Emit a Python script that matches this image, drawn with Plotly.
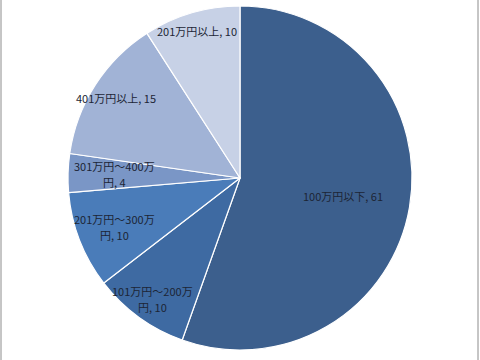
import math
import plotly.graph_objects as go

labels = ["100万円以下", "101万円～200万円", "201万円～300万円", "301万円～400万円", "401万円以上", "201万円以上"]
display = ["100万円以下, 61", "101万円～200万<br>円, 10", "201万円～300万<br>円, 10", "301万円～400万<br>円, 4", "401万円以上, 15", "201万円以上, 10"]
values = [61, 10, 10, 4, 15, 10]
colors = ["#3C5F8D", "#3E6AA2", "#4A7CB9", "#7A96C6", "#A1B3D6", "#C7D1E6"]

# label placement style: fraction of radius at which each label sits
label_radius = [0.61, 0.87, 0.78, 0.73, 0.86, 0.89]
LINE_GAP = 16  # px between wrapped label lines

W, H = 480, 360
cx, cy, R = 240, 178, 172  # pie centre / radius in pixels

fig = go.Figure(go.Pie(
    labels=labels,
    values=values,
    textinfo="none",
    sort=False,
    direction="clockwise",
    rotation=0,
    marker=dict(colors=colors, line=dict(color="#FFFFFF", width=1.2)),
    domain=dict(x=[(cx - R) / W, (cx + R) / W], y=[1 - (cy + R) / H, 1 - (cy - R) / H]),
    showlegend=False,
    hoverinfo="label+value",
))

total = sum(values)
annotations = []
cum = 0
for txt, v, f in zip(display, values, label_radius):
    mid = (cum + v / 2) / total * 2 * math.pi
    cum += v
    px = cx + f * R * math.sin(mid)
    py = cy - f * R * math.cos(mid)
    lines = txt.split("<br>")
    n = len(lines)
    for i, line in enumerate(lines):
        ly = py + (i - (n - 1) / 2) * LINE_GAP
        annotations.append(dict(
            x=px / W, y=1 - ly / H, xref="paper", yref="paper",
            text=line, showarrow=False,
            xanchor="center", yanchor="middle",
            font=dict(family="Noto Sans CJK JP", size=11, color="#1C2535"),
        ))

fig.update_layout(
    width=W, height=H,
    margin=dict(l=0, r=0, t=0, b=0),
    paper_bgcolor="white",
    annotations=annotations,
    shapes=[dict(type="rect", xref="paper", yref="paper", x0=1 / W, x1=478 / W, y0=-0.1, y1=1.1,
                 line=dict(color="#8C8C8C", width=1))],
)

fig.write_html("out.html")
